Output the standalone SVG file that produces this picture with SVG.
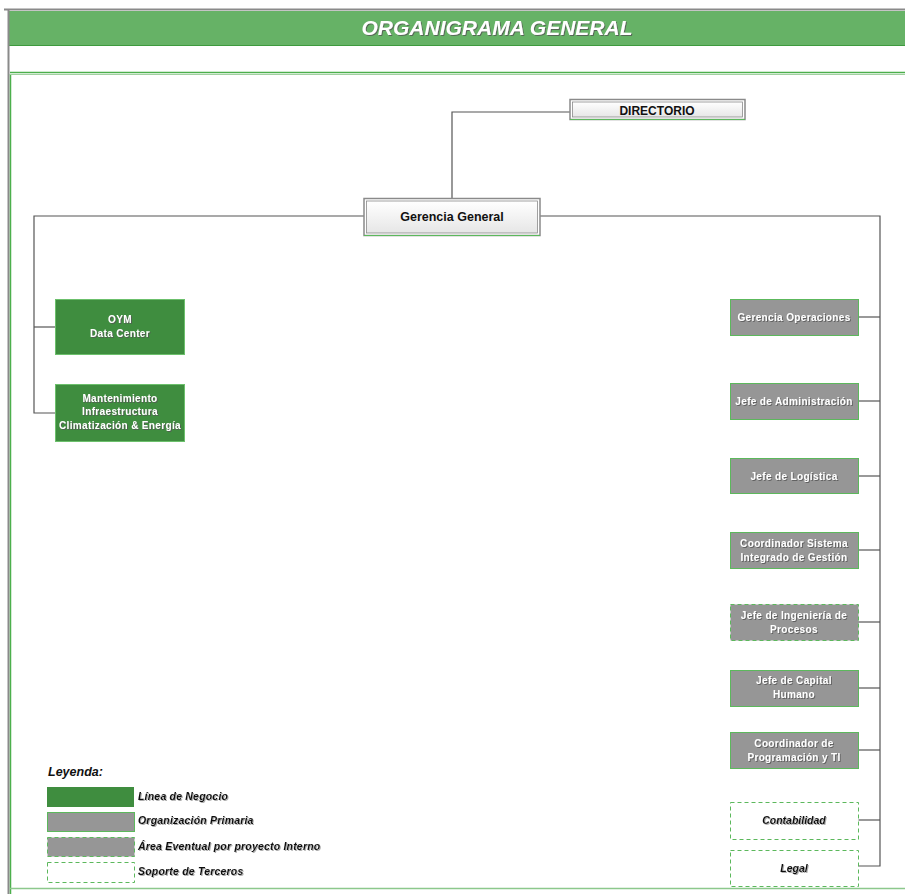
<svg xmlns="http://www.w3.org/2000/svg" width="905" height="894" viewBox="0 0 905 894">
<defs>
<linearGradient id="gw" x1="0" y1="0" x2="0" y2="1"><stop offset="0" stop-color="#ffffff"/><stop offset="1" stop-color="#e6e6e6"/></linearGradient>
<filter id="sh" x="-10%" y="-30%" width="120%" height="160%"><feDropShadow dx="1" dy="1" stdDeviation="0.6" flood-color="#555" flood-opacity="0.8"/></filter>
<filter id="shk" x="-10%" y="-30%" width="120%" height="160%"><feDropShadow dx="1" dy="1" stdDeviation="0.6" flood-color="#777" flood-opacity="0.6"/></filter>
</defs>
<style>
.t{font-family:"Liberation Sans",Arial,sans-serif;font-weight:bold;text-anchor:middle}
.w{fill:#ffffff;font-size:10px;letter-spacing:0.35px}
.g{fill:#969696;stroke:#5cb85c;stroke-width:1}
.gd{fill:#969696;stroke:#5cb85c;stroke-width:1;stroke-dasharray:4 3}
.wd{fill:#ffffff;stroke:#5cb85c;stroke-width:1;stroke-dasharray:4 3}
.gr{fill:#3f8d3f;stroke:#6cc06c;stroke-width:1}
.c{fill:none;stroke:#555;stroke-width:1.2}
.lg{font-family:"Liberation Sans",Arial,sans-serif;font-weight:bold;font-style:italic;font-size:10.5px;letter-spacing:0.2px;fill:#111}
</style>
<rect width="905" height="894" fill="#ffffff"/>
<!-- frame -->
<line x1="4" y1="9.5" x2="905" y2="9.5" stroke="#8a8a8a" stroke-width="2"/>
<rect x="8" y="11" width="897" height="34" fill="#66b266"/>
<line x1="8" y1="45.5" x2="905" y2="45.5" stroke="#3e9a3e" stroke-width="1"/>
<line x1="8.5" y1="10" x2="8.5" y2="894" stroke="#8a8a8a" stroke-width="2"/>
<line x1="10.5" y1="74" x2="10.5" y2="894" stroke="#4caf4c" stroke-width="1.5"/>
<line x1="10" y1="72.5" x2="905" y2="72.5" stroke="#4caf4c" stroke-width="1.5"/>
<line x1="10" y1="74.5" x2="905" y2="74.5" stroke="#a0d0a0" stroke-width="1"/>
<line x1="10" y1="888.5" x2="905" y2="888.5" stroke="#8cc88c" stroke-width="1.5"/>
<text x="497" y="35" class="t" font-size="21" font-style="italic" fill="#ffffff" filter="url(#sh)">ORGANIGRAMA GENERAL</text>

<g id="connectors">
<polyline class="c" points="570,112 452,112 452,198"/>
<polyline class="c" points="364,216 34,216 34,413 55,413"/>
<line class="c" x1="34" y1="327" x2="55" y2="327"/>
<polyline class="c" points="540,216 880,216 880,866 858,866"/>
<line class="c" x1="858" y1="317" x2="880" y2="317"/>
<line class="c" x1="858" y1="401" x2="880" y2="401"/>
<line class="c" x1="858" y1="476" x2="880" y2="476"/>
<line class="c" x1="858" y1="550" x2="880" y2="550"/>
<line class="c" x1="858" y1="622" x2="880" y2="622"/>
<line class="c" x1="858" y1="688" x2="880" y2="688"/>
<line class="c" x1="858" y1="750" x2="880" y2="750"/>
<line class="c" x1="858" y1="820" x2="880" y2="820"/>
</g>

<g id="directorio">
<rect x="570" y="99.5" width="175" height="20" fill="#ffffff" stroke="#8a8a8a" stroke-width="1.5"/>
<rect x="572.5" y="102" width="170" height="15" fill="url(#gw)" stroke="#8a8a8a" stroke-width="0.8"/>
<line x1="570" y1="119.5" x2="745" y2="119.5" stroke="#5cb85c" stroke-width="1"/>
<text x="657" y="114.5" class="t" font-size="12" fill="#111">DIRECTORIO</text>
</g>

<g id="gerencia-general">
<rect x="364" y="198.5" width="176" height="37" fill="#ffffff" stroke="#8a8a8a" stroke-width="1.5"/>
<rect x="366.5" y="201" width="171" height="32" fill="url(#gw)" stroke="#8a8a8a" stroke-width="0.8"/>
<line x1="364" y1="235.5" x2="540" y2="235.5" stroke="#5cb85c" stroke-width="1"/>
<text x="452" y="221" class="t" font-size="12.5" fill="#111">Gerencia General</text>
</g>

<g id="oym">
<rect class="gr" x="55.5" y="299.5" width="129" height="55"/>
<text class="t w" x="120" y="323" filter="url(#sh)">OYM</text>
<text class="t w" x="120" y="337" filter="url(#sh)">Data Center</text>
</g>
<g id="mantenimiento">
<rect class="gr" x="55.5" y="384.5" width="129" height="57"/>
<text class="t w" x="120" y="402" filter="url(#sh)">Mantenimiento</text>
<text class="t w" x="120" y="415" filter="url(#sh)">Infraestructura</text>
<text class="t w" x="120" y="429" filter="url(#sh)">Climatización &amp; Energía</text>
</g>

<g id="gerencia-operaciones">
<rect class="g" x="730.5" y="299.5" width="128" height="36"/>
<text class="t w" x="794" y="321" filter="url(#sh)">Gerencia Operaciones</text>
</g>
<g id="jefe-administracion">
<rect class="g" x="730.5" y="383.5" width="128" height="36"/>
<text class="t w" x="794" y="405" filter="url(#sh)">Jefe de Administración</text>
</g>
<g id="jefe-logistica">
<rect class="g" x="730.5" y="458.5" width="128" height="35"/>
<text class="t w" x="794" y="480" filter="url(#sh)">Jefe de Logística</text>
</g>
<g id="coordinador-sig">
<rect class="g" x="730.5" y="532.5" width="128" height="36"/>
<text class="t w" x="794" y="547" filter="url(#sh)">Coordinador Sistema</text>
<text class="t w" x="794" y="561" filter="url(#sh)">Integrado de Gestión</text>
</g>
<g id="jefe-ingenieria">
<rect class="gd" x="730.5" y="604.5" width="128" height="36"/>
<text class="t w" x="794" y="619" filter="url(#sh)">Jefe de Ingeniería de</text>
<text class="t w" x="794" y="633" filter="url(#sh)">Procesos</text>
</g>
<g id="jefe-capital-humano">
<rect class="g" x="730.5" y="670.5" width="128" height="36"/>
<text class="t w" x="794" y="684" filter="url(#sh)">Jefe de Capital</text>
<text class="t w" x="794" y="698" filter="url(#sh)">Humano</text>
</g>
<g id="coordinador-programacion">
<rect class="g" x="730.5" y="732.5" width="128" height="36"/>
<text class="t w" x="794" y="747" filter="url(#sh)">Coordinador de</text>
<text class="t w" x="794" y="761" filter="url(#sh)">Programación y TI</text>
</g>
<g id="contabilidad">
<rect class="wd" x="730.5" y="802.5" width="128" height="37"/>
<text class="t" x="794" y="824" font-size="10.5" font-style="italic" fill="#111" filter="url(#shk)">Contabilidad</text>
</g>
<g id="legal">
<rect class="wd" x="730.5" y="850.5" width="128" height="36"/>
<text class="t" x="794" y="872" font-size="10.5" font-style="italic" fill="#111" filter="url(#shk)">Legal</text>
</g>

<g id="leyenda">
<text x="48" y="776" font-family="Liberation Sans,Arial,sans-serif" font-weight="bold" font-style="italic" font-size="12.5" fill="#111">Leyenda:</text>
<rect x="47" y="787" width="87" height="20" fill="#3f8d3f"/>
<rect class="g" x="47.5" y="812.5" width="87" height="19"/>
<rect class="gd" x="47.5" y="837.5" width="87" height="19"/>
<rect class="wd" x="47.5" y="862.5" width="87" height="20"/>
<text class="lg" x="138" y="800" filter="url(#shk)">Línea de Negocio</text>
<text class="lg" x="138" y="824" filter="url(#shk)">Organización Primaria</text>
<text class="lg" x="138" y="850" filter="url(#shk)">Área Eventual por proyecto Interno</text>
<text class="lg" x="138" y="875" filter="url(#shk)">Soporte de Terceros</text>
</g>
</svg>
